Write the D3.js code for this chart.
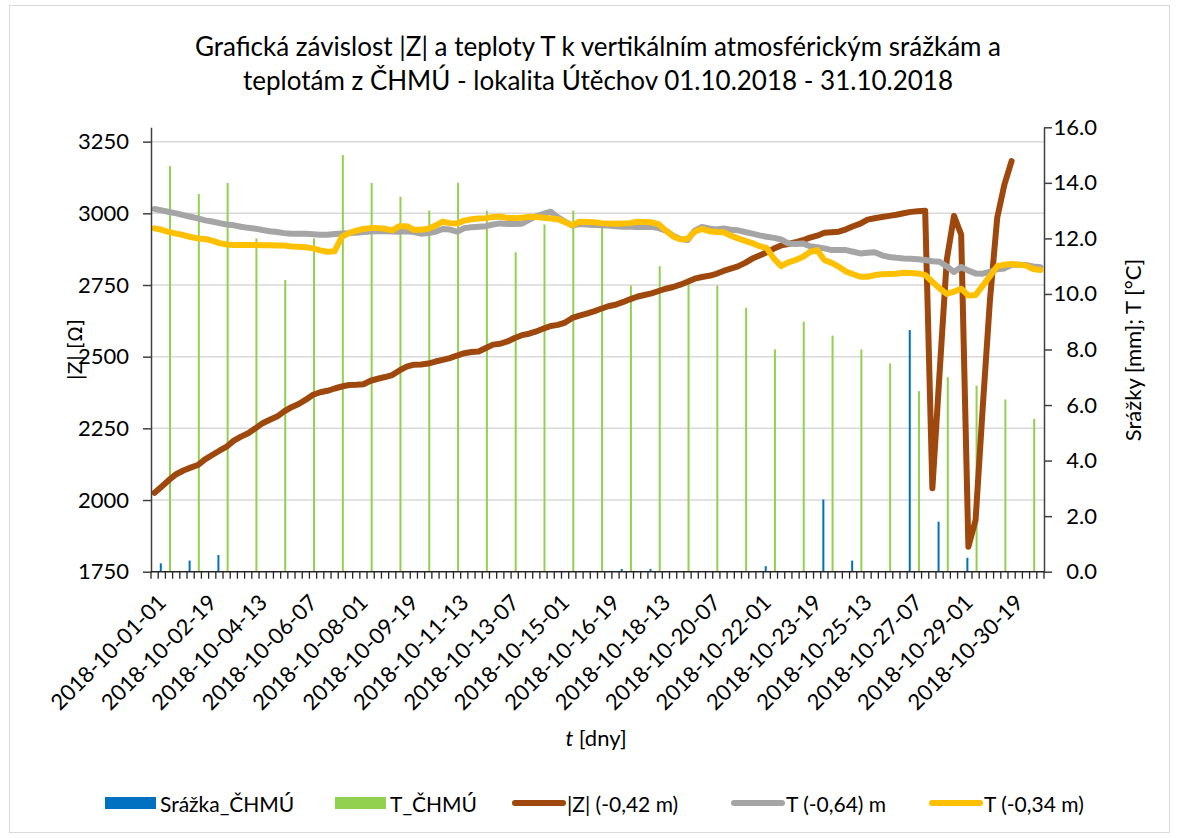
<!DOCTYPE html>
<html>
<head>
<meta charset="utf-8">
<script src="https://cdn.jsdelivr.net/npm/d3@7"></script>
<style>
  body { margin: 0; background: #fff; }
  svg text { font-family: Lato, "Open Sans", sans-serif; fill: #000; }
</style>
</head>
<body>
<script>
var width = 1178,
    height = 838;

// categories every 6 hours, 2018-10-01-01 ... 2018-10-31-19
var days = d3.range(1, 32);
var hours = ["01", "07", "13", "19"];
var categories = [];
days.forEach(function (d) {
    hours.forEach(function (h) {
        categories.push("2018-10-" + d3.format("02d")(d) + "-" + h);
    });
});

// daily values from CHMU (precipitation at 07, temperature at 13)
var srazkaHour = "07";
var tChmuHour = "13";
var srazka = [0.3, 0.4, 0.6, 0, 0, 0, 0, 0, 0, 0,
    0, 0, 0, 0, 0, 0, 0.1, 0.1, 0, 0,
    0, 0.2, 0, 2.6, 0.4, 0, 8.7, 1.8, 0.5, 0, 0];
var tChmu = [14.6, 13.6, 14.0, 12.0, 10.5, 12.0, 15.0, 14.0, 13.5, 13.0,
    14.0, 13.0, 11.5, 12.5, 13.0, 12.4, 10.3, 11.0, 10.4, 10.3,
    9.5, 8.0, 9.0, 8.5, 8.0, 7.5, 6.5, 7.0, 6.7, 6.2, 5.5];

// |Z| (-0,42 m) in ohm
var zValues = [2025, 2047, 2070, 2090, 2103, 2113, 2122, 2142, 2157, 2172,
    2186, 2207, 2221, 2233, 2250, 2268, 2280, 2291, 2309, 2324,
    2335, 2350, 2367, 2376, 2381, 2389, 2396, 2401, 2402, 2404,
    2416, 2423, 2429, 2436, 2452, 2465, 2472, 2473, 2476, 2483,
    2489, 2495, 2504, 2512, 2516, 2518, 2530, 2542, 2545, 2553,
    2565, 2575, 2580, 2588, 2598, 2607, 2611, 2619, 2635, 2643,
    2650, 2658, 2667, 2676, 2681, 2690, 2700, 2709, 2715, 2721,
    2729, 2737, 2743, 2751, 2761, 2772, 2778, 2782, 2789, 2799,
    2807, 2815, 2827, 2842, 2853, 2864, 2877, 2888, 2893, 2899,
    2906, 2915, 2922, 2932, 2934, 2936, 2944, 2955, 2964, 2978,
    2983, 2987, 2991, 2995, 3000, 3005, 3007, 3009, 2041, 2443,
    2838, 2991, 2926, 1837, 1930, 2326, 2699, 2984, 3100, 3182,
    null, null, null, null];

// T (-0,64) m
var t064 = [13.06, 13.01, 12.95, 12.90, 12.84, 12.78, 12.72, 12.65, 12.61, 12.55,
    12.50, 12.47, 12.42, 12.38, 12.35, 12.30, 12.26, 12.23, 12.19, 12.17,
    12.17, 12.17, 12.15, 12.13, 12.13, 12.16, 12.18, 12.19, 12.20, 12.23,
    12.25, 12.26, 12.26, 12.25, 12.24, 12.26, 12.23, 12.17, 12.19, 12.24,
    12.34, 12.32, 12.24, 12.37, 12.40, 12.42, 12.44, 12.50, 12.54, 12.52,
    12.52, 12.53, 12.67, 12.80, 12.88, 12.96, 12.76, 12.60, 12.46, 12.52,
    12.50, 12.48, 12.47, 12.46, 12.44, 12.42, 12.42, 12.41, 12.41, 12.42,
    12.37, 12.28, 12.10, 11.98, 11.94, 12.28, 12.41, 12.36, 12.32, 12.36,
    12.31, 12.29, 12.23, 12.17, 12.11, 12.06, 12.02, 11.96, 11.82, 11.80,
    11.82, 11.72, 11.68, 11.64, 11.58, 11.58, 11.58, 11.52, 11.46, 11.48,
    11.50, 11.39, 11.33, 11.30, 11.28, 11.27, 11.25, 11.22, 11.18, 11.16,
    10.99, 10.79, 10.97, 10.84, 10.74, 10.73, 10.80, 10.89, 10.92, 11.05,
    11.05, 11.04, 10.99, 10.96];

// T (-0,34 m)
var t034 = [12.36, 12.31, 12.23, 12.17, 12.12, 12.05, 12.00, 11.98, 11.92, 11.83,
    11.78, 11.76, 11.76, 11.76, 11.76, 11.75, 11.75, 11.74, 11.74, 11.71,
    11.70, 11.68, 11.64, 11.57, 11.52, 11.54, 12.06, 12.19, 12.28, 12.34,
    12.37, 12.37, 12.35, 12.29, 12.44, 12.44, 12.31, 12.31, 12.35, 12.46,
    12.60, 12.55, 12.54, 12.64, 12.69, 12.72, 12.73, 12.77, 12.79, 12.73,
    12.73, 12.74, 12.78, 12.77, 12.74, 12.72, 12.69, 12.58, 12.47, 12.60,
    12.59, 12.58, 12.55, 12.54, 12.53, 12.54, 12.55, 12.60, 12.59, 12.58,
    12.51, 12.28, 12.07, 11.97, 11.98, 12.24, 12.34, 12.26, 12.23, 12.22,
    12.10, 12.00, 11.91, 11.83, 11.72, 11.65, 11.27, 11.00, 11.14, 11.22,
    11.33, 11.51, 11.58, 11.22, 11.12, 10.98, 10.81, 10.71, 10.62, 10.62,
    10.68, 10.71, 10.72, 10.73, 10.76, 10.75, 10.74, 10.68, 10.44, 10.20,
    10.00, 10.08, 10.19, 9.94, 9.96, 10.30, 10.64, 11.00, 11.05, 11.08,
    11.05, 11.02, 10.90, 10.86];

var leftTicks = [1750, 2000, 2250, 2500, 2750, 3000, 3250];
var rightTicks = [0, 2, 4, 6, 8, 10, 12, 14, 16];
var labelEvery = 7;

var titleLines = ["Grafická závislost |Z| a teploty T k vertikálním atmosférickým srážkám a",
    "teplotám z ČHMÚ - lokalita Útěchov 01.10.2018 - 31.10.2018"];

var plot = {left: 151, right: 1044, top: 127.3, bottom: 571.7};

const svg = d3.select("body")
    .append("svg")
    .attr("width", width)
    .attr("height", height);

svg.append("rect")
    .attr("x", 9.5).attr("y", 5.5)
    .attr("width", 1160).attr("height", 827)
    .attr("fill", "#fff")
    .attr("stroke", "#d9d9d9");

var x = d3.scaleBand()
    .domain(categories)
    .range([plot.left, plot.right]);

var sub = d3.scaleBand()
    .domain(["srazka", "tchmu"])
    .range([-2, 2]);

var yL = d3.scaleLinear().domain([1750, 3300]).range([plot.bottom, plot.top]);
var yR = d3.scaleLinear().domain([0, 16]).range([plot.bottom, plot.top]);

function cx(c) { return x(c) + x.bandwidth() / 2; }

// gridlines
svg.append("g")
    .selectAll("line")
    .data(leftTicks.slice(1))
    .enter().append("line")
    .attr("x1", plot.left).attr("x2", plot.right)
    .attr("y1", function (d) { return yL(d); })
    .attr("y2", function (d) { return yL(d); })
    .attr("stroke", "#d9d9d9")
    .attr("stroke-width", 1.5);

// bars
function dayCat(k, h) { return "2018-10-" + d3.format("02d")(days[k]) + "-" + h; }

var barSeries = [
    {key: "srazka", values: srazka, hour: srazkaHour, color: "#0070C0"},
    {key: "tchmu", values: tChmu, hour: tChmuHour, color: "#92D050"}
];

barSeries.forEach(function (s) {
    svg.append("g")
        .selectAll("rect")
        .data(s.values.map(function (v, k) { return {cat: dayCat(k, s.hour), v: v}; })
            .filter(function (d) { return d.v > 0; }))
        .enter().append("rect")
        .attr("x", function (d) { return cx(d.cat) + sub(s.key); })
        .attr("width", sub.bandwidth())
        .attr("y", function (d) { return yR(d.v); })
        .attr("height", function (d) { return yR(0) - yR(d.v); })
        .attr("fill", s.color);
});

// lines
var lineSeries = [
    {values: zValues, y: yL, color: "#9E480E"},
    {values: t064, y: yR, color: "#A5A5A5"},
    {values: t034, y: yR, color: "#FFC000"}
];

lineSeries.forEach(function (s) {
    var line = d3.line()
        .defined(function (d) { return d != null; })
        .x(function (d, i) { return cx(categories[i]); })
        .y(function (d) { return s.y(d); });
    svg.append("path")
        .datum(s.values)
        .attr("d", line)
        .attr("fill", "none")
        .attr("stroke", s.color)
        .attr("stroke-width", 6)
        .attr("stroke-linejoin", "round")
        .attr("stroke-linecap", "round");
});

// left axis
var gL = svg.append("g")
    .attr("transform", "translate(" + plot.left + ",0)")
    .call(d3.axisLeft(yL).tickValues(leftTicks).tickFormat(d3.format("d"))
        .tickSize(8).tickSizeOuter(0).tickPadding(14));

// right axis
var gR = svg.append("g")
    .attr("transform", "translate(" + plot.right + ",0)")
    .call(d3.axisRight(yR).tickValues(rightTicks).tickFormat(d3.format(".1f")).tickSize(8).tickSizeOuter(0));
gR.selectAll("text").attr("x", 53).attr("text-anchor", "end");

[gL, gR].forEach(function (g) {
    g.select(".domain").attr("stroke", "#404040").attr("stroke-width", 1.5);
    g.selectAll(".tick line").attr("stroke", "#404040").attr("stroke-width", 1.5);
    g.selectAll("text").style("font-size", "22px");
});

// category axis
var gX = svg.append("g");
gX.append("line")
    .attr("x1", plot.left).attr("x2", plot.right)
    .attr("y1", plot.bottom).attr("y2", plot.bottom)
    .attr("stroke", "#262626").attr("stroke-width", 1.5);
gX.selectAll("line.tick")
    .data(categories.concat([null]))
    .enter().append("line")
    .attr("class", "tick")
    .attr("x1", function (d) { return d ? x(d) : plot.right; })
    .attr("x2", function (d) { return d ? x(d) : plot.right; })
    .attr("y1", plot.bottom).attr("y2", plot.bottom + 7)
    .attr("stroke", "#262626").attr("stroke-width", 1.3);
gX.selectAll("text")
    .data(categories.filter(function (d, i) { return i % labelEvery === 0; }))
    .enter().append("text")
    .attr("transform", function (d) { return "translate(" + (cx(d) + 7) + ",598) rotate(-45)"; })
    .attr("text-anchor", "end")
    .attr("dominant-baseline", "central")
    .style("font-size", "22px")
    .text(function (d) { return d; });

// titles
svg.append("g")
    .selectAll("text")
    .data(titleLines)
    .enter().append("text")
    .attr("x", 598)
    .attr("y", function (d, i) { return 46 + i * 34; })
    .attr("text-anchor", "middle")
    .attr("dominant-baseline", "central")
    .style("font-size", "26px")
    .text(function (d) { return d; });

var zTitle = svg.append("text")
    .attr("transform", "translate(75,350) rotate(-90)")
    .attr("text-anchor", "middle")
    .attr("dominant-baseline", "central")
    .style("font-family", "'DejaVu Sans', sans-serif")
    .style("font-size", "19px");
zTitle.append("tspan").text("|Z|");
zTitle.append("tspan").attr("dx", 6).text("[Ω]");

svg.append("text")
    .attr("transform", "translate(1132,350) rotate(-90)")
    .attr("text-anchor", "middle")
    .attr("dominant-baseline", "central")
    .style("font-size", "22px")
    .text("Srážky [mm]; T [°C]");

var xt = svg.append("text")
    .attr("x", 596).attr("y", 737)
    .attr("text-anchor", "middle")
    .attr("dominant-baseline", "central")
    .style("font-size", "22px");
xt.append("tspan").style("font-style", "italic").text("t");
xt.append("tspan").text(" [dny]");

// legend
var legend = [
    {name: "Srážka_ČHMÚ", color: "#0070C0", type: "bar", x: 105},
    {name: "T_ČHMÚ", color: "#92D050", type: "bar", x: 335},
    {name: "|Z| (-0,42 m)", color: "#9E480E", type: "line", x: 512},
    {name: "T (-0,64) m", color: "#A5A5A5", type: "line", x: 731},
    {name: "T (-0,34 m)", color: "#FFC000", type: "line", x: 929}
];
var ly = 803;
legend.forEach(function (d) {
    if (d.type === "bar") {
        svg.append("rect")
            .attr("x", d.x).attr("y", ly - 6)
            .attr("width", 51).attr("height", 12)
            .attr("fill", d.color);
    } else {
        svg.append("line")
            .attr("x1", d.x + 3).attr("x2", d.x + 51)
            .attr("y1", ly).attr("y2", ly)
            .attr("stroke", d.color)
            .attr("stroke-width", 6)
            .attr("stroke-linecap", "round");
    }
    svg.append("text")
        .attr("x", d.x + 55).attr("y", ly)
        .attr("dominant-baseline", "central")
        .style("font-size", "21px")
        .text(d.name);
});
</script>
</body>
</html>
